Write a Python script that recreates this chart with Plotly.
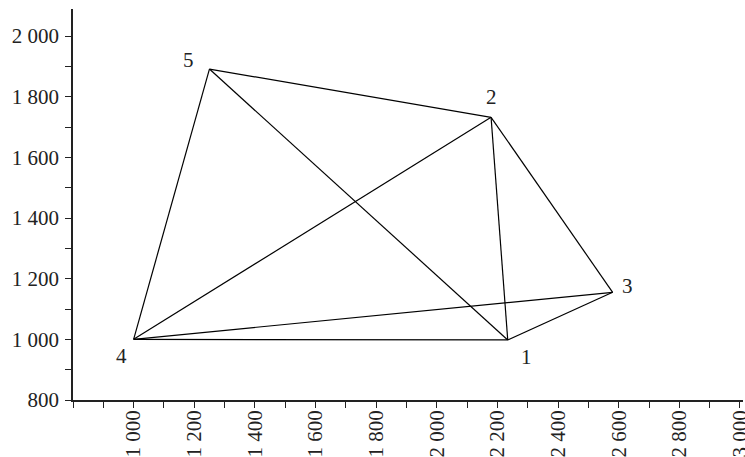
import plotly.graph_objects as go

# Point data
point_ids = ["1", "2", "3", "4", "5"]
point_x = [2234, 2179, 2580, 1000, 1250]
point_y = [998, 1732, 1155, 1000, 1891]

# Edges between points (by id)
edges = [("5", "2"), ("5", "4"), ("5", "1"), ("2", "4"), ("2", "1"),
         ("2", "3"), ("3", "1"), ("3", "4"), ("4", "1")]

x_ticks = [1000, 1200, 1400, 1600, 1800, 2000, 2200, 2400, 2600, 2800, 3000]
y_ticks = [800, 1000, 1200, 1400, 1600, 1800, 2000]


def fmt(v):
    return f"{v:,}".replace(",", " ")


idx = {p: i for i, p in enumerate(point_ids)}
ex, ey = [], []
for a, b in edges:
    ex += [point_x[idx[a]], point_x[idx[b]], None]
    ey += [point_y[idx[a]], point_y[idx[b]], None]

fig = go.Figure()
fig.add_trace(go.Scatter(x=ex, y=ey, mode="lines",
                         line=dict(color="black", width=1.2),
                         hoverinfo="skip", showlegend=False, cliponaxis=False))

label_shift = {"1": (19, -17), "2": (0, 20), "3": (15, 6), "4": (-12, -17), "5": (-21, 9)}
for p, x, y in zip(point_ids, point_x, point_y):
    dx, dy = label_shift[p]
    fig.add_annotation(x=x, y=y, text=p, showarrow=False, xshift=dx, yshift=dy,
                       font=dict(family="Liberation Serif", size=21, color="#222"))

font = dict(family="Liberation Serif", size=21, color="#222")
fig.update_layout(
    width=745, height=457,
    margin=dict(l=73, r=2, t=9, b=57, autoexpand=False),
    plot_bgcolor="white", paper_bgcolor="white",
    showlegend=False,
    xaxis=dict(range=[800, 3010], showgrid=False, zeroline=False, automargin=False,
               showline=True, linecolor="#222", linewidth=1.5,
               tickmode="array", tickvals=x_ticks, ticktext=[fmt(v) for v in x_ticks],
               ticks="outside", ticklen=6, tickwidth=1.2, tickcolor="#222",
               tickangle=-90, tickfont=font, ticklabelstandoff=-6,
               ticklabeloverflow="allow",
               minor=dict(tickmode="linear", tick0=800, dtick=100, ticks="outside",
                          ticklen=6, tickwidth=1.2, tickcolor="#222", showgrid=False)),
    yaxis=dict(range=[800, 2089], showgrid=False, zeroline=False, automargin=False,
               showline=True, linecolor="#222", linewidth=1.5,
               tickmode="array", tickvals=y_ticks, ticktext=[fmt(v) for v in y_ticks],
               ticks="outside", ticklen=6, tickwidth=1.2, tickcolor="#222",
               tickfont=font, ticklabelstandoff=2, ticklabeloverflow="allow",
               minor=dict(tickmode="linear", tick0=800, dtick=100, ticks="outside",
                          ticklen=6, tickwidth=1.2, tickcolor="#222", showgrid=False)),
)

fig.write_html("out.html", config={"displayModeBar": False},
               post_script="document.body.style.margin='0';document.body.style.overflow='hidden';")
